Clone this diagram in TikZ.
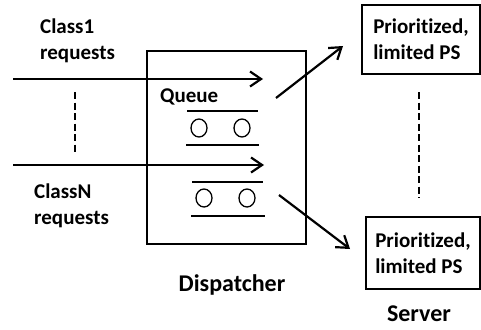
\documentclass[tikz,border=0pt]{standalone}
\usepackage{fontspec}
\setmainfont{Carlito}[Ligatures=NoCommon]
\usetikzlibrary{arrows.meta,shapes.geometric}
\tikzset{
  lbl/.style={font=\fontsize{21}{26}\selectfont\bfseries, align=left, inner sep=0pt},
  big/.style={font=\fontsize{24}{29}\selectfont\bfseries, inner sep=0pt},
  boxed/.style={draw, line width=1.4pt, inner sep=0pt},
  flow/.style={line width=2.2pt, -{Straight Barb[length=11pt,width=15pt,line width=2.2pt]}},
  qline/.style={line width=2.2pt},
  job/.style={draw, line width=1.3pt, ellipse, minimum width=16pt, minimum height=18pt, inner sep=0pt},
  dashline/.style={line width=1.8pt, dash pattern=on 7pt off 3.5pt}
}
\begin{document}
\begin{tikzpicture}[x=1pt,y=-1pt]
\useasboundingbox (0,0) rectangle (481,329);
% dispatcher box
\node[boxed, minimum width=159pt, minimum height=193pt] (disp) at (226.5,147.5) {};
% server boxes
\node[boxed, minimum width=118pt, minimum height=69pt, lbl, align=left, draw] (srv1) at (421,39.5) {Prioritized,\\limited PS};
\node[boxed, minimum width=114pt, minimum height=72pt, lbl, align=left, draw] (srv2) at (423,253) {Prioritized,\\limited PS};
% labels
\node[lbl, anchor=west] (c1) at (40,41) {Class1\\requests};
\node[lbl, anchor=west] (cn) at (34,205.5) {ClassN\\requests};
\node[lbl, anchor=west] (q) at (160,97) {Queue};
\node[big] (dl) at (232,285) {Dispatcher};
\node[big] (sl) at (419,314) {Server};
% incoming arrows
\coordinate (a1s) at (13,79); \coordinate (a1e) at (263,79);
\coordinate (a2s) at (13,165); \coordinate (a2e) at (264,165);
\draw[flow] (a1s) -- (a1e);
\draw[flow] (a2s) -- (a2e);
% outgoing arrows
\coordinate (o1s) at (276,98); \coordinate (o1e) at (343,46);
\coordinate (o2s) at (279,195); \coordinate (o2e) at (350,249);
\draw[flow] (o1s) -- (o1e);
\draw[flow] (o2s) -- (o2e);
% dashed separators
\coordinate (d1a) at (75,92); \coordinate (d1b) at (75,155);
\coordinate (d2a) at (419,92); \coordinate (d2b) at (419,198);
\draw[dashline] (d1a) -- (d1b);
\draw[dashline] (d2a) -- (d2b);
% queue 1
\coordinate (q1a) at (187,111); \coordinate (q1b) at (258,111);
\coordinate (q1c) at (186,145); \coordinate (q1d) at (259,145);
\draw[qline] (q1a) -- (q1b);
\draw[qline] (q1c) -- (q1d);
\node[job] (j11) at (199,128) {};
\node[job] (j12) at (242,128) {};
% queue 2
\coordinate (q2a) at (192,182); \coordinate (q2b) at (263,182);
\coordinate (q2c) at (191,216); \coordinate (q2d) at (265,216);
\draw[qline] (q2a) -- (q2b);
\draw[qline] (q2c) -- (q2d);
\node[job] (j21) at (204,198) {};
\node[job] (j22) at (247,198) {};
\end{tikzpicture}
\end{document}
